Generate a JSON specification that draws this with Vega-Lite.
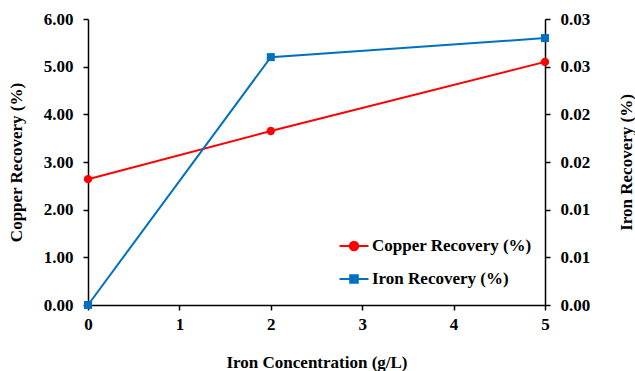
{
  "$schema": "https://vega.github.io/schema/vega-lite/v6.json",
  "width": 457,
  "height": 286,
  "autosize": {"type": "none"},
  "padding": {"left": 88, "top": 19, "right": 90, "bottom": 66},
  "background": "white",
  "config": {
    "view": {"stroke": null},
    "font": "'Times New Roman', 'Liberation Serif', 'DejaVu Serif', serif",
    "axis": {
      "grid": false,
      "labelFont": "'Times New Roman', 'Liberation Serif', 'DejaVu Serif', serif",
      "labelFontWeight": "bold",
      "labelFontSize": 17,
      "labelColor": "black",
      "labelFlush": false,
      "titleFont": "'Times New Roman', 'Liberation Serif', 'DejaVu Serif', serif",
      "titleFontWeight": "bold",
      "titleFontSize": 17,
      "titleColor": "black",
      "domainColor": "black",
      "domainWidth": 1.5,
      "tickColor": "black",
      "tickWidth": 1.5,
      "tickSize": 5
    },
    "legend": {
      "labelFont": "'Times New Roman', 'Liberation Serif', 'DejaVu Serif', serif",
      "labelFontWeight": "bold",
      "labelFontSize": 17,
      "labelColor": "black"
    }
  },
  "data": {
    "values": [
      {"conc": 0, "series": "Copper Recovery (%)", "recovery": 2.64},
      {"conc": 2, "series": "Copper Recovery (%)", "recovery": 3.65},
      {"conc": 5, "series": "Copper Recovery (%)", "recovery": 5.1},
      {"conc": 0, "series": "Iron Recovery (%)", "recovery": 0.0},
      {"conc": 2, "series": "Iron Recovery (%)", "recovery": 0.026},
      {"conc": 5, "series": "Iron Recovery (%)", "recovery": 0.028}
    ]
  },
  "encoding": {
    "x": {
      "field": "conc",
      "type": "quantitative",
      "scale": {"domain": [0, 5], "nice": false},
      "axis": {
        "title": "Iron Concentration (g/L)",
        "values": [0, 1, 2, 3, 4, 5],
        "format": "d",
        "labelPadding": 6,
        "titlePadding": 22
      }
    },
    "color": {
      "field": "series",
      "type": "nominal",
      "scale": {
        "domain": ["Copper Recovery (%)", "Iron Recovery (%)"],
        "range": ["#FF0000", "#0070C0"]
      },
      "legend": {
        "title": null,
        "orient": "none",
        "legendX": 255,
        "legendY": 216,
        "symbolSize": 400,
        "rowPadding": 13,
        "labelOffset": 7,
        "symbolStrokeWidth": 2,
        "encode": {
          "symbols": {
            "update": {
              "shape": {"signal": "datum.value === 'Copper Recovery (%)' ? 'M-1.45,0H1.45M-0.42,0A0.42,0.42 0 1,0 0.42,0A0.42,0.42 0 1,0 -0.42,0Z' : 'M-1.45,0H1.45M-0.38,-0.38H0.38V0.38H-0.38Z'"},
              "fill": {"signal": "datum.value === 'Copper Recovery (%)' ? '#FF0000' : '#0070C0'"},
              "stroke": {"signal": "datum.value === 'Copper Recovery (%)' ? '#FF0000' : '#0070C0'"},
              "strokeWidth": {"value": 2},
              "opacity": {"value": 1}
            }
          }
        }
      }
    }
  },
  "layer": [
    {
      "transform": [{"filter": "datum.series === 'Copper Recovery (%)'"}],
      "encoding": {
        "y": {
          "field": "recovery",
          "type": "quantitative",
          "scale": {"domain": [0, 6], "nice": false},
          "axis": {
            "title": "Copper Recovery (%)",
            "orient": "left",
            "values": [0, 1, 2, 3, 4, 5, 6],
            "format": ".2f",
            "labelPadding": 10,
            "titlePadding": 18
          }
        }
      },
      "layer": [
        {"mark": {"type": "line", "strokeWidth": 2}},
        {"mark": {"type": "point", "shape": "circle", "filled": true, "size": 70, "opacity": 1}}
      ]
    },
    {
      "transform": [{"filter": "datum.series === 'Iron Recovery (%)'"}],
      "encoding": {
        "y": {
          "field": "recovery",
          "type": "quantitative",
          "scale": {"domain": [0, 0.03], "nice": false},
          "axis": {
            "title": "Iron Recovery (%)",
            "orient": "right",
            "values": [0, 0.005, 0.01, 0.015, 0.02, 0.025, 0.03],
            "labelExpr": "format(round(datum.value * 100 + 1e-9) / 100, '.2f')",
            "labelPadding": 10,
            "titlePadding": 46,
            "titleAngle": 270
          }
        }
      },
      "layer": [
        {"mark": {"type": "line", "strokeWidth": 2}},
        {"mark": {"type": "point", "shape": "square", "filled": true, "size": 64, "opacity": 1}}
      ]
    }
  ],
  "resolve": {"scale": {"y": "independent"}}
}
